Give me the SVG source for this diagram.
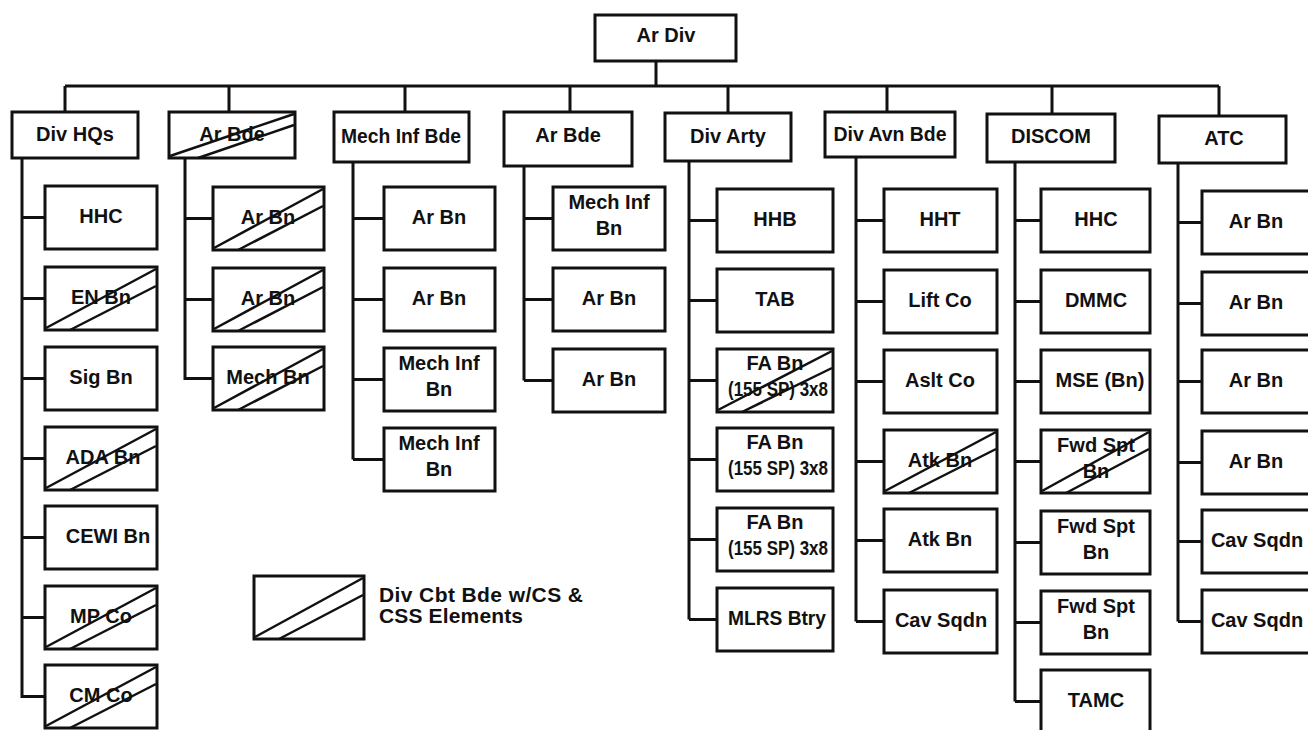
<svg xmlns="http://www.w3.org/2000/svg" width="1308" height="730" viewBox="0 0 1308 730">
<style>
rect.b{fill:#fff;stroke:#111;stroke-width:3}
.c{fill:none;stroke:#111;stroke-width:3}
.h{fill:none;stroke:#111;stroke-width:2.5}
text{font-family:"Liberation Sans",Arial,Helvetica,sans-serif;font-weight:bold;font-size:20px;fill:#111;text-anchor:middle}
text.l{text-anchor:start;font-size:21px}
</style>
<rect width="1308" height="730" fill="#fff"/>
<g id="connectors" class="c">
<path d="M656,61V86M65,86H1219M65,86V112M229,86V112M405,86V112M570,86V112M728,86V113M887,86V112M1052,86V114M1219,86V116"/>
<path d="M22,158V698M22,217.5H45M22,298.5H45M22,378.5H45M22,458.5H45M22,537.5H45M22,617.5H45M22,696.5H45"/>
<path d="M185,158V380M185,218.5H213M185,299.5H213M185,378.5H213"/>
<path d="M353,162V459.5M353,218.5H384M353,299.5H384M353,379.5H384M353,459.5H384"/>
<path d="M524,166V380.5M524,218.5H553M524,299.5H553M524,380.5H553"/>
<path d="M689,161V619.5M689,220.5H717M689,300.5H717M689,380.5H717M689,459.5H717M689,539.5H717M689,619.5H717"/>
<path d="M856,157V621.5M856,220.5H884M856,301.5H884M856,381.5H884M856,461.5H884M856,540.5H884M856,621.5H884"/>
<path d="M1015,162V701.5M1015,220.5H1041M1015,301.5H1041M1015,381.5H1041M1015,461.5H1041M1015,542.5H1041M1015,622.5H1041M1015,701.5H1041"/>
<path d="M1178,163V621.5M1178,222.5H1202M1178,303.5H1202M1178,381.5H1202M1178,462.5H1202M1178,541.5H1202M1178,621.5H1202"/>
</g>
<g id="n-ardiv"><rect class="b" x="595" y="15" width="141" height="46"/><text x="666" y="42">Ar Div</text></g>
<g id="n-divhqs"><rect class="b" x="12" y="112" width="126" height="46"/><text x="75" y="141">Div HQs</text></g>
<g id="n-arbde1"><rect class="b" x="169" y="112" width="126" height="46"/><text x="232" y="141">Ar Bde</text><path class="h" d="M170,156L294,114M198,158L294,125"/></g>
<g id="n-mechinfbde"><rect class="b" x="334" y="112" width="135" height="50"/><text x="401" y="143" textLength="120" lengthAdjust="spacingAndGlyphs">Mech Inf Bde</text></g>
<g id="n-arbde2"><rect class="b" x="504" y="112" width="128" height="54"/><text x="568" y="142">Ar Bde</text></g>
<g id="n-divarty"><rect class="b" x="665" y="113" width="126" height="48"/><text x="728" y="143">Div Arty</text></g>
<g id="n-divavnbde"><rect class="b" x="825" y="112" width="130" height="45"/><text x="890" y="141" textLength="113" lengthAdjust="spacingAndGlyphs">Div Avn Bde</text></g>
<g id="n-discom"><rect class="b" x="987" y="114" width="128" height="48"/><text x="1051" y="143">DISCOM</text></g>
<g id="n-atc"><rect class="b" x="1159" y="116" width="127" height="47"/><text x="1224" y="145">ATC</text></g>

<g id="n-hq-hhc"><rect class="b" x="45" y="186" width="112" height="63"/><text x="101" y="223">HHC</text></g>
<g id="n-hq-en"><rect class="b" x="45" y="267" width="112" height="63"/><text x="101" y="304">EN Bn</text><path class="h" d="M46,328L156,269M70,330L156,286"/></g>
<g id="n-hq-sig"><rect class="b" x="45" y="347" width="112" height="63"/><text x="101" y="384">Sig Bn</text></g>
<g id="n-hq-ada"><rect class="b" x="45" y="427" width="112" height="63"/><text x="103" y="464">ADA Bn</text><path class="h" d="M46,488L156,429M70,490L156,446"/></g>
<g id="n-hq-cewi"><rect class="b" x="45" y="506" width="112" height="63"/><text x="108" y="543">CEWI Bn</text></g>
<g id="n-hq-mp"><rect class="b" x="45" y="586" width="112" height="63"/><text x="101" y="623">MP Co</text><path class="h" d="M46,647L156,588M70,649L156,605"/></g>
<g id="n-hq-cm"><rect class="b" x="45" y="665" width="112" height="63"/><text x="101" y="702">CM Co</text><path class="h" d="M46,726L156,667M70,728L156,684"/></g>

<g id="n-b1-ar1"><rect class="b" x="213" y="187" width="111" height="63"/><text x="268" y="224">Ar Bn</text><path class="h" d="M214,248L323,189M238,250L323,206"/></g>
<g id="n-b1-ar2"><rect class="b" x="213" y="268" width="111" height="63"/><text x="268" y="305">Ar Bn</text><path class="h" d="M214,329L323,270M238,331L323,287"/></g>
<g id="n-b1-mech"><rect class="b" x="213" y="347" width="111" height="63"/><text x="268" y="384">Mech Bn</text><path class="h" d="M214,408L323,349M238,410L323,366"/></g>

<g id="n-b2-ar1"><rect class="b" x="384" y="187" width="111" height="63"/><text x="439" y="224">Ar Bn</text></g>
<g id="n-b2-ar2"><rect class="b" x="384" y="268" width="111" height="63"/><text x="439" y="305">Ar Bn</text></g>
<g id="n-b2-mi1"><rect class="b" x="384" y="348" width="111" height="63"/><text x="439" y="370">Mech Inf</text><text x="439" y="396">Bn</text></g>
<g id="n-b2-mi2"><rect class="b" x="384" y="428" width="111" height="63"/><text x="439" y="450">Mech Inf</text><text x="439" y="476">Bn</text></g>

<g id="n-b3-mi"><rect class="b" x="553" y="187" width="112" height="63"/><text x="609" y="209">Mech Inf</text><text x="609" y="235">Bn</text></g>
<g id="n-b3-ar1"><rect class="b" x="553" y="268" width="112" height="63"/><text x="609" y="305">Ar Bn</text></g>
<g id="n-b3-ar2"><rect class="b" x="553" y="349" width="112" height="63"/><text x="609" y="386">Ar Bn</text></g>

<g id="n-da-hhb"><rect class="b" x="717" y="189" width="116" height="63"/><text x="775" y="226">HHB</text></g>
<g id="n-da-tab"><rect class="b" x="717" y="269" width="116" height="63"/><text x="775" y="306">TAB</text></g>
<g id="n-da-fa1"><rect class="b" x="717" y="349" width="116" height="63"/><text x="775" y="370">FA Bn</text><text x="778" y="396" textLength="100" lengthAdjust="spacingAndGlyphs">(155 SP) 3x8</text><path class="h" d="M718,410L832,351M742,412L832,368"/></g>
<g id="n-da-fa2"><rect class="b" x="717" y="428" width="116" height="63"/><text x="775" y="449">FA Bn</text><text x="778" y="475" textLength="100" lengthAdjust="spacingAndGlyphs">(155 SP) 3x8</text></g>
<g id="n-da-fa3"><rect class="b" x="717" y="508" width="116" height="63"/><text x="775" y="529">FA Bn</text><text x="778" y="555" textLength="100" lengthAdjust="spacingAndGlyphs">(155 SP) 3x8</text></g>
<g id="n-da-mlrs"><rect class="b" x="717" y="588" width="116" height="63"/><text x="777" y="625" textLength="98" lengthAdjust="spacingAndGlyphs">MLRS Btry</text></g>

<g id="n-av-hht"><rect class="b" x="884" y="189" width="113" height="63"/><text x="940" y="226">HHT</text></g>
<g id="n-av-lift"><rect class="b" x="884" y="270" width="113" height="63"/><text x="940" y="307">Lift Co</text></g>
<g id="n-av-aslt"><rect class="b" x="884" y="350" width="113" height="63"/><text x="940" y="387">Aslt Co</text></g>
<g id="n-av-atk1"><rect class="b" x="884" y="430" width="113" height="63"/><text x="940" y="467">Atk Bn</text><path class="h" d="M885,491L996,432M909,493L996,449"/></g>
<g id="n-av-atk2"><rect class="b" x="884" y="509" width="113" height="63"/><text x="940" y="546">Atk Bn</text></g>
<g id="n-av-cav"><rect class="b" x="884" y="590" width="113" height="63"/><text x="941" y="627">Cav Sqdn</text></g>

<g id="n-ds-hhc"><rect class="b" x="1041" y="189" width="109" height="63"/><text x="1096" y="226">HHC</text></g>
<g id="n-ds-dmmc"><rect class="b" x="1041" y="270" width="109" height="63"/><text x="1096" y="307">DMMC</text></g>
<g id="n-ds-mse"><rect class="b" x="1041" y="350" width="109" height="63"/><text x="1100" y="387">MSE (Bn)</text></g>
<g id="n-ds-fsb1"><rect class="b" x="1041" y="430" width="109" height="63"/><text x="1096" y="452">Fwd Spt</text><text x="1096" y="478">Bn</text><path class="h" d="M1042,491L1149,432M1066,493L1149,449"/></g>
<g id="n-ds-fsb2"><rect class="b" x="1041" y="511" width="109" height="63"/><text x="1096" y="533">Fwd Spt</text><text x="1096" y="559">Bn</text></g>
<g id="n-ds-fsb3"><rect class="b" x="1041" y="591" width="109" height="63"/><text x="1096" y="613">Fwd Spt</text><text x="1096" y="639">Bn</text></g>
<g id="n-ds-tamc"><rect class="b" x="1041" y="670" width="109" height="63"/><text x="1096" y="707">TAMC</text></g>

<g id="n-atc-ar1"><rect class="b" x="1202" y="191" width="112" height="63"/><text x="1256" y="228">Ar Bn</text></g>
<g id="n-atc-ar2"><rect class="b" x="1202" y="272" width="112" height="63"/><text x="1256" y="309">Ar Bn</text></g>
<g id="n-atc-ar3"><rect class="b" x="1202" y="350" width="112" height="63"/><text x="1256" y="387">Ar Bn</text></g>
<g id="n-atc-ar4"><rect class="b" x="1202" y="431" width="112" height="63"/><text x="1256" y="468">Ar Bn</text></g>
<g id="n-atc-cav1"><rect class="b" x="1202" y="510" width="112" height="63"/><text x="1257" y="547">Cav Sqdn</text></g>
<g id="n-atc-cav2"><rect class="b" x="1202" y="590" width="112" height="63"/><text x="1257" y="627">Cav Sqdn</text></g>

<g id="legend"><rect class="b" x="254" y="576" width="110" height="63"/><path class="h" d="M255,637L363,578M279,639L363,595"/><text class="l" x="379" y="602" textLength="204" lengthAdjust="spacing">Div Cbt Bde w/CS &amp;</text><text class="l" x="379" y="623" textLength="144" lengthAdjust="spacing">CSS Elements</text></g>
</svg>
